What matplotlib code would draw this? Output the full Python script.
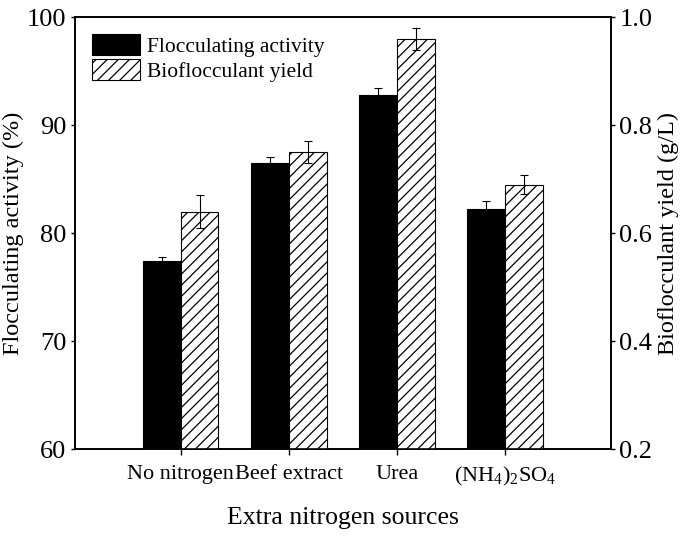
import matplotlib.pyplot as plt
import numpy as np

plt.rcParams['font.family'] = ['Liberation Serif', 'DejaVu Serif']
plt.rcParams['hatch.linewidth'] = 0.9
plt.rcParams['mathtext.fontset'] = 'custom'
plt.rcParams['mathtext.rm'] = 'Liberation Serif'

# Data
categories = ['No nitrogen', 'Beef extract', 'Urea', r'(NH$_4$)$_2$SO$_4$']
activity = [77.4, 86.5, 92.8, 82.2]          # %
activity_err = [0.4, 0.6, 0.6, 0.8]
yield_gl = [0.64, 0.75, 0.96, 0.69]           # g/L
yield_err = [0.03, 0.02, 0.02, 0.018]

x = np.arange(len(categories))
w = 0.35

fig = plt.figure(figsize=(6.85, 5.38), dpi=100)
ax = fig.add_axes([0.109, 0.165, 0.783, 0.803])
ax2 = ax.twinx()

ekw = dict(ecolor='black', elinewidth=0.8, capsize=3, capthick=0.8)
b1 = ax.bar(x - w / 2, activity, w, color='black', edgecolor='black', linewidth=0.8,
            yerr=activity_err, error_kw=ekw)
b2 = ax2.bar(x + w / 2, yield_gl, w, color='white', edgecolor='black', linewidth=0.8, hatch='///',
             yerr=yield_err, error_kw=ekw)

ax.set_xlim(-0.98, 3.98)
ax.set_ylim(60, 100)
ax2.set_ylim(0.2, 1.0)
ax.set_yticks([60, 70, 80, 90, 100])
ax2.set_yticks([0.2, 0.4, 0.6, 0.8, 1.0])
ax.set_xticks(x)
ax.set_xticklabels(categories, fontsize=16)

ax.tick_params(axis='y', labelsize=19, direction='out', length=3, width=1, pad=3)
ax2.tick_params(axis='y', labelsize=19, direction='out', length=3, width=1, pad=3)
ax.tick_params(axis='x', direction='out', length=4, width=1, pad=7)

for a in (ax, ax2):
    for s in a.spines.values():
        s.set_linewidth(1.2)

ax.set_ylabel('Flocculating activity (%)', fontsize=17.5, labelpad=2)
ax2.set_ylabel('Bioflocculant yield (g/L)', fontsize=17.5, labelpad=4)
ax.set_xlabel('Extra nitrogen sources', fontsize=18.5, labelpad=14)

ax.legend([b1, b2], ['Flocculating activity', 'Bioflocculant yield'], loc='upper left',
          frameon=False, fontsize=15.5, handlelength=2.25, handleheight=1.1,
          labelspacing=0.1, handletextpad=0.3, borderaxespad=0.6, borderpad=0.2)

fig.savefig('out.png', dpi=100)
